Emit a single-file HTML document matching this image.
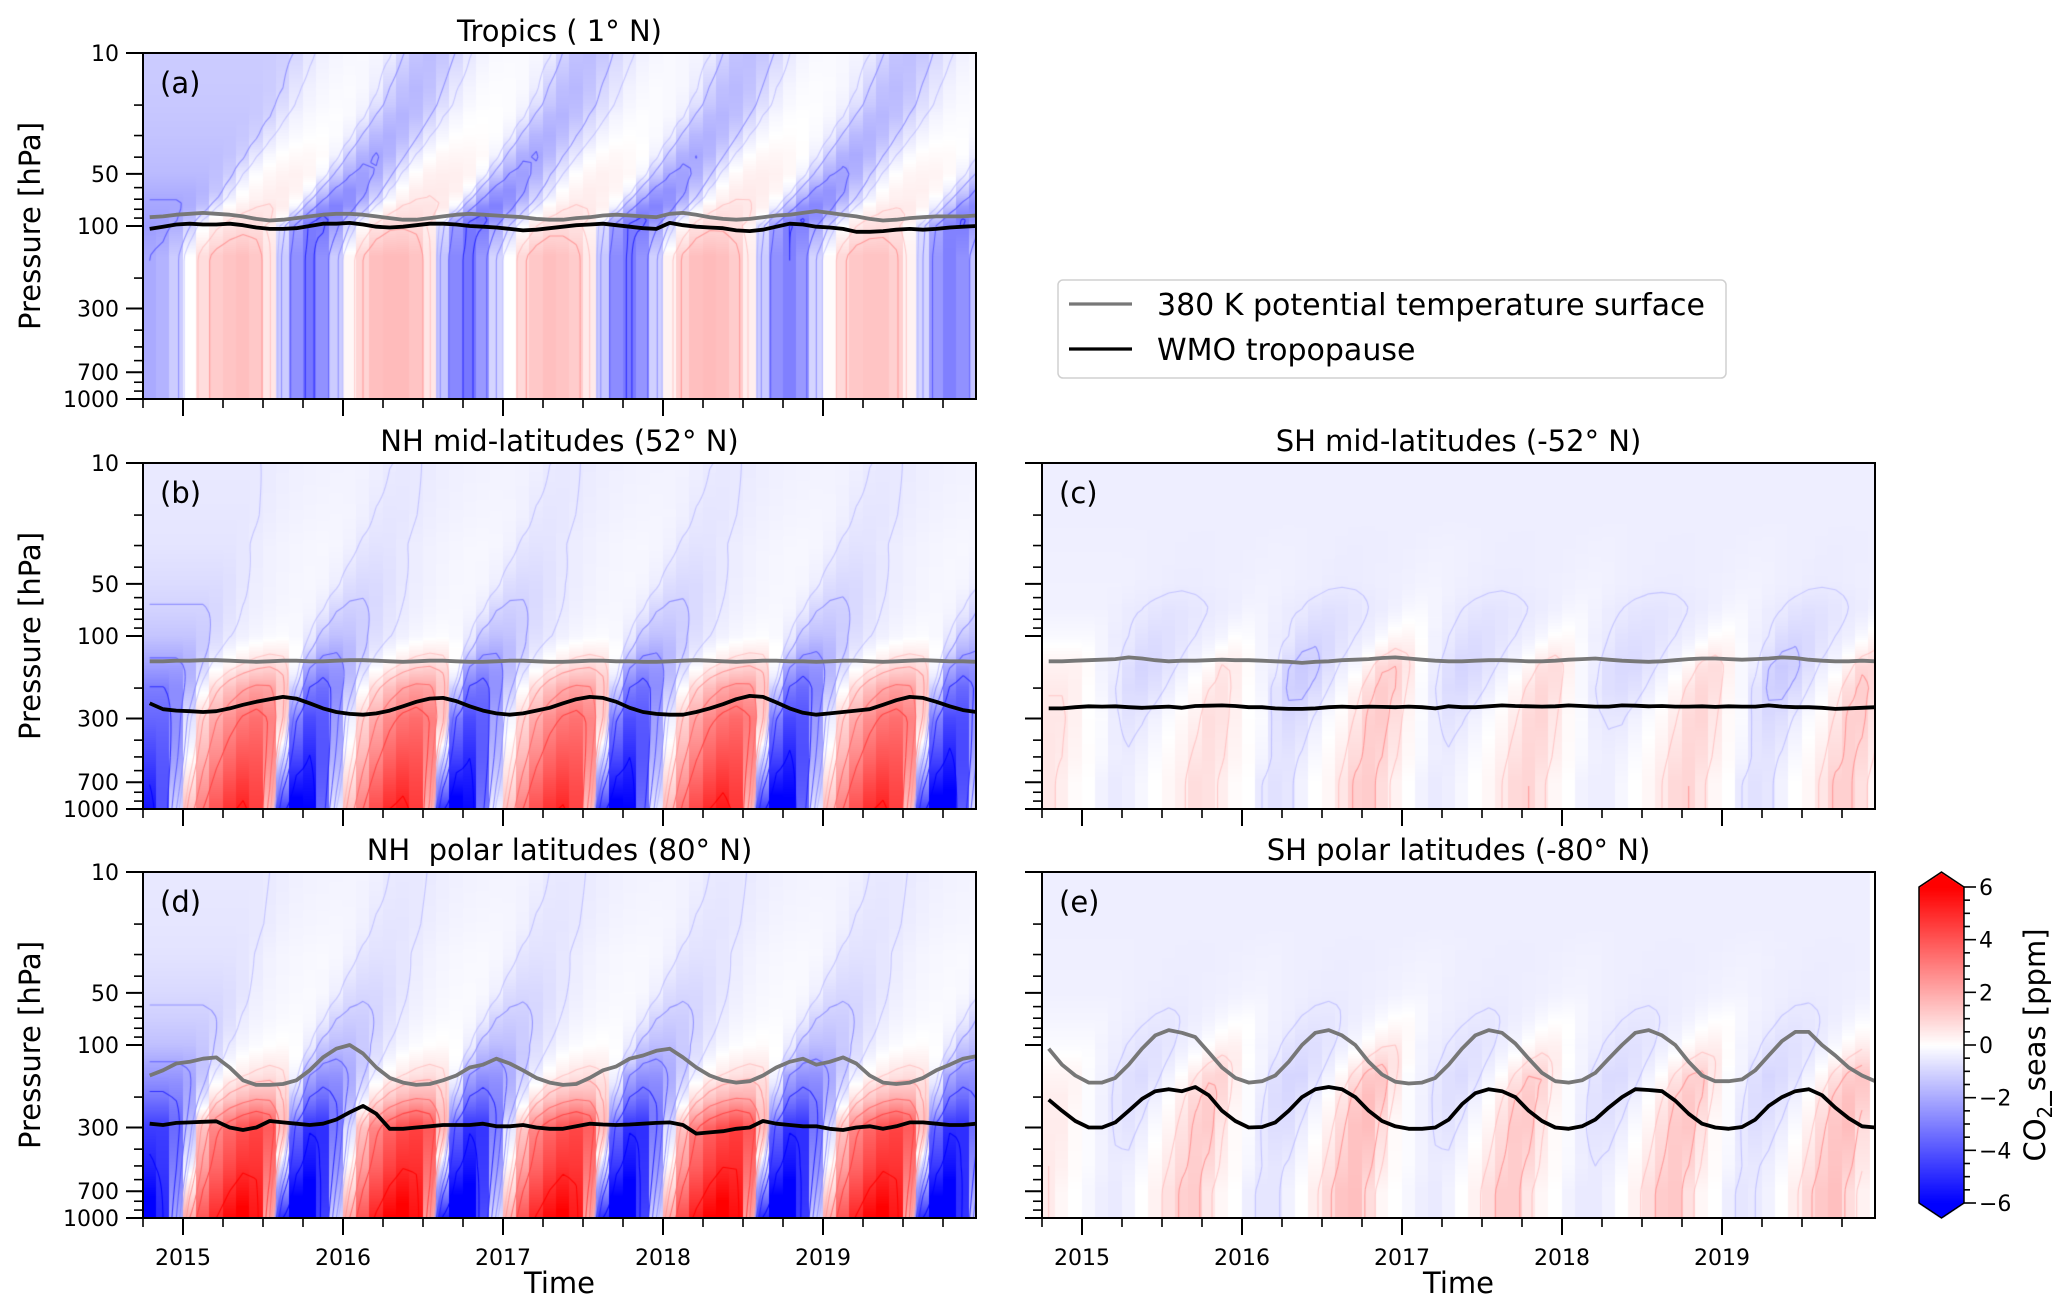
<!DOCTYPE html>
<html><head><meta charset="utf-8">
<style>
html,body{margin:0;padding:0;background:#fff;}
#wrap{position:relative;width:2067px;height:1313px;overflow:hidden;font-family:"DejaVu Sans","Liberation Sans",sans-serif;}
canvas{position:absolute;}
svg{position:absolute;left:0;top:0;}
</style></head>
<body>
<div id="wrap">
<canvas id="cv-a" width="833" height="346" style="left:143px;top:53px"></canvas>
<canvas id="cv-b" width="833" height="346" style="left:143px;top:463px"></canvas>
<canvas id="cv-c" width="833" height="346" style="left:1042px;top:463px"></canvas>
<canvas id="cv-d" width="833" height="346" style="left:143px;top:872px"></canvas>
<canvas id="cv-e" width="833" height="346" style="left:1042px;top:872px"></canvas>
<canvas id="cv-cb" width="45" height="346" style="left:1919px;top:872px"></canvas>
<svg id="svg" width="2067" height="1313" xmlns="http://www.w3.org/2000/svg"></svg>
</div>
<script>
// ---- data ----
const levels = [1000,700,500,300,200,150,100,70,50,30,20,10];
const surfA = [-2.0,-1.8,-1.2, 0,0.8,1.2,1.4,1.5,1.3,0.6,-1.2,-2.6,-3.2,-2.6,-1.2, 0.2,1.0,1.5,1.6,1.6,1.4,0.6,-1.4,-2.8,-3.2,-2.4,-1.0, 0,0.9,1.3,1.5,1.4,1.2,0.5,-1.3,-2.7,-3.1,-2.5,-1.1, 0.3,1.1,1.5,1.6,1.5,1.2,0.4,-1.2,-2.6,-3.0,-2.4,-1.0, 0.1,0.9,1.3,1.4,1.4,1.1,0.3,-1.0,-2.4,-3.0,-2.6,-1.4];
const surfB = [-5.5,-4,-1, 1.5,3,4,4.8,5.2,4.5,1.5,-4.5,-6.5,-6,-3.5,-0.5, 1.5,3,4.2,5,5.3,4.6,1.8,-4.8,-6.5,-5.8,-3.2,-0.3, 1.4,3,4.1,4.8,5.1,4.4,1.5,-4.5,-6.4,-6,-3.4,-0.5, 1.6,3.2,4.3,5,5.4,4.7,1.6,-4.6,-6.6,-6.2,-3.6,-0.6, 1.5,3,4.1,4.9,5.2,4.5,1.4,-4.5,-6.6,-6.4,-3.8,-0.8];
const surfC = [0.6,0.4,0.1, 0,-0.3,-0.5,-0.4,-0.2,0,0.2,0.4,0.8,0.7,0.4,0.1, 0,-0.5,-0.7,-0.6,-0.3,0,0.2,0.6,1.1,1.2,0.8,0.3, 0,-0.3,-0.5,-0.4,-0.2,0,0.2,0.5,0.9,1.0,0.6,0.2, 0,-0.3,-0.4,-0.4,-0.2,0,0.2,0.5,0.9,1.0,0.6,0.2, 0,-0.5,-0.7,-0.6,-0.3,0,0.2,0.6,1.1,1.1,0.7,0.2];
const surfD = [-6.5,-5,-2, 2,4,5,5.8,6.3,5.5,2,-5,-7,-7,-4.5,-1, 2,4,5.2,6,6.4,5.6,2.2,-5.2,-7,-6.8,-4.2,-0.8, 1.8,4,5.1,5.8,6.2,5.4,2,-5,-7,-7,-4.4,-1, 2,4.2,5.3,6,6.5,5.7,2.1,-5.1,-7,-7,-4.6,-1.1, 1.9,4,5.1,5.9,6.3,5.5,1.9,-5,-7,-7,-4.8,-1.2];
const surfE = [0.5,0.2,0, -0.2,-0.4,-0.5,-0.3,0,0.3,0.7,1.1,1.2,0.6,0.2,0, -0.4,-0.6,-0.6,-0.3,0,0.4,0.9,1.4,1.5,0.8,0.2,0, -0.2,-0.4,-0.5,-0.3,0,0.3,0.8,1.2,1.2,0.6,0.2,0, -0.3,-0.5,-0.5,-0.3,0,0.3,0.8,1.2,1.3,0.7,0.2,0, -0.4,-0.6,-0.5,-0.3,0,0.4,0.9,1.3,1.5,0.8,0.3];
const ampA = [1,1,1,1,1,1,0.9,0.7,0.55,0.4,0.35,0.3], lagA=[0,0,0,0,0,0,0.5,2.5,4,6,7.5,9], bgA=[0,0,0,0,0,0,-0.5,-0.6,-0.5,-0.6,-0.6,-0.6];
const ampB = [1,0.9,0.8,0.65,0.5,0.3,0.12,0.08,0.06,0.04,0.03,0.02], lagB=[0,0.3,0.6,1,1.5,2,3,4,5,6,7,8], bgB=[0,0,0,0,-0.3,-0.6,-0.7,-0.6,-0.5,-0.4,-0.4,-0.4];
const ampC = [1,1,1,1.1,1.3,1.2,0.6,0.3,0.1,0.05,0,0], lagC=[0,0,0.5,1,1.5,2,3,4,5,6,7,8], bgC=[0,0,0,-0.1,-0.3,-0.4,-0.5,-0.5,-0.4,-0.4,-0.4,-0.4];
const ampD = [1,0.9,0.8,0.7,0.4,0.25,0.12,0.08,0.06,0.04,0.03,0.02], lagD=[0,0.3,0.6,1,1.5,2,3,4,5,6,7,8], bgD=[0,0,0,0,-0.6,-0.8,-0.7,-0.6,-0.5,-0.4,-0.4,-0.4];
const ampE = [1,1,1,1.1,1.2,1.1,0.6,0.3,0.1,0.05,0,0], lagE=[0,0,0.5,1,1.5,2,3,4,5,6,7,8], bgE=[0,0,0,-0.1,-0.2,-0.3,-0.4,-0.4,-0.4,-0.4,-0.4,-0.4];

const grayA = [89,88,86, 85,84,85,86,88,91,93,92,90,88,86,85, 85,86,88,90,92,92,90,88,86,85,86,87, 88,89,91,92,92,90,89,87,86,87,88,89, 85,84,86,89,91,92,91,89,87,86,84,82, 84,86,88,91,93,92,90,89,88,88,88,87];
const blackA = [104,101,98, 97,98,98,97,99,102,104,104,103,100,97,97, 96,98,101,102,101,99,97,97,98,100,101,102, 104,106,105,103,101,99,98,97,99,101,103,104, 96,99,101,102,103,106,107,105,101,97,98,101, 102,104,108,108,107,105,104,105,104,102,101,100];
const grayB = [140,140,139, 139,138,138,139,140,141,140,139,139,140,140,139, 138,138,139,140,141,140,139,139,140,141,141,140, 139,139,140,141,141,140,139,139,140,140,141,141, 140,139,138,139,140,141,140,139,139,140,140,141, 140,139,139,140,141,140,139,138,139,140,140,141];
const blackB = [245,265,270, 272,275,272,262,250,240,232,225,230,245,262,275, 282,285,280,270,255,240,230,228,238,255,270,280, 285,280,270,260,245,232,225,228,240,260,275,282, 285,285,275,262,248,232,222,225,242,262,278,285, 280,275,270,265,250,235,225,228,240,255,268,275];
const grayC = [140,140,139, 138,137,136,133,135,138,140,139,139,138,137,138, 138,139,140,141,143,141,140,138,137,136,134,133, 135,137,139,140,140,139,138,138,139,140,140,139, 137,136,135,137,139,140,141,140,138,136,135,135, 136,137,136,135,133,134,137,139,140,140,139,140];
const blackC = [262,262,258, 255,256,255,258,260,258,256,260,254,253,252,254, 258,258,262,264,264,262,258,256,258,256,257,258, 256,258,262,255,258,258,255,252,254,255,256,255, 252,254,256,256,252,253,255,254,256,256,255,257, 255,256,256,252,256,258,258,260,264,262,260,258];
const grayD = [150,140,128, 125,120,118,135,160,170,170,168,160,140,118,105, 100,112,135,155,165,170,168,160,150,135,130,120, 128,140,155,165,170,168,155,140,133,120,115,108, 105,118,135,150,160,165,162,150,135,125,120,130, 125,118,128,150,165,168,165,155,140,130,120,116];
const blackD = [285,290,282, 280,278,276,300,310,300,275,280,285,290,285,270, 245,225,250,305,305,300,295,290,290,290,285,295, 295,290,300,305,305,295,285,288,290,288,285,282, 280,290,325,320,315,305,300,275,285,290,295,295, 305,310,300,295,305,295,280,280,285,290,290,285];
const grayE = [105,130,150, 165,165,155,130,105,88,82,85,90,110,135,155, 165,162,150,125,100,85,82,88,100,125,148,163, 167,165,155,130,105,88,82,85,98,120,145,162, 165,160,145,120,100,85,82,88,100,125,150,162, 162,158,140,115,95,84,84,100,115,135,150,162];
const blackE = [207,240,275, 300,300,280,240,205,185,180,185,175,195,240,275, 300,298,280,240,200,180,175,180,200,240,275,295, 305,305,300,270,220,190,180,185,200,240,275,300, 305,295,270,230,200,180,182,185,210,250,285,300, 305,298,270,225,200,185,180,195,230,265,295,300];
const yearTicks = [2015,2016,2017,2018,2019];
const pMajor = [10,50,100,300,700,1000];
const pMinor = [20,30,40,60,70,80,90,200,400,500,600,800,900];
const cbTicks = [-6,-4,-2,0,2,4,6];
const contourLevels = [-5,-3,-2,-1,-0.5,0.5,1,2,3,5];

// ---- geometry ----
const W=833, H=346, T0=2014.75, T1=T0+W/160;
const panels = [
 {id:'a',x:143,y:53,surf:surfA,amp:ampA,lag:lagA,bg:bgA,gray:grayA,black:blackA,title:'Tropics ( 1° N)',yl:true,xl:false},
 {id:'b',x:143,y:463,surf:surfB,amp:ampB,lag:lagB,bg:bgB,gray:grayB,black:blackB,title:'NH mid-latitudes (52° N)',yl:true,xl:false},
 {id:'c',x:1042,y:463,surf:surfC,amp:ampC,lag:lagC,bg:bgC,gray:grayC,black:blackC,title:'SH mid-latitudes (-52° N)',yl:false,xl:false},
 {id:'d',x:143,y:872,surf:surfD,amp:ampD,lag:lagD,bg:bgD,gray:grayD,black:blackD,title:'NH\u00a0 polar latitudes (80° N)',yl:true,xl:true},
 {id:'e',x:1042,y:872,surf:surfE,amp:ampE,lag:lagE,bg:bgE,gray:grayE,black:blackE,title:'SH polar latitudes (-80° N)',yl:false,xl:true}
];
function xs(P,t){return P.x+(t-T0)/(T1-T0)*W;}
function ys(P,p){return P.y+(Math.log10(p)-1)/2*H;}
function rgb(v){v=Math.max(-6,Math.min(6,v));let r,g,b;
 if(v<0){const f=1+v/6;r=f*255;g=f*255;b=255;}else{const f=1-v/6;r=255;g=f*255;b=f*255;}
 return [Math.round(r),Math.round(g),Math.round(b)];}
function color(v){const c=rgb(v);return 'rgb('+c[0]+','+c[1]+','+c[2]+')';}
function prof(arr,p){const lp=Math.log10(p);
 for(let k=0;k<levels.length-1;k++){const a=Math.log10(levels[k]),b=Math.log10(levels[k+1]);
  if(lp<=a&&lp>=b){const f=(a-lp)/(a-b);return arr[k]+(arr[k+1]-arr[k])*f;}}
 return lp>3?arr[0]:arr[arr.length-1];}
function sample(s,x){x=Math.max(0,Math.min(s.length-1,x));const i=Math.floor(x),f=x-i;const j=Math.min(s.length-1,i+1);return s[i]+(s[j]-s[i])*f;}
function val(P,i,p){return prof(P.amp,p)*sample(P.surf,i-prof(P.lag,p))+prof(P.bg,p);}

const svg=document.getElementById('svg');const NS='http://www.w3.org/2000/svg';
function el(tag,attrs,parent){const e=document.createElementNS(NS,tag);for(const k in attrs)e.setAttribute(k,attrs[k]);(parent||svg).appendChild(e);return e;}
function txt(s,attrs,parent){const e=el('text',attrs,parent);e.textContent=s;return e;}

panels.forEach(P=>{
 const cv=document.getElementById('cv-'+P.id);const ctx=cv.getContext('2d');
 const n=P.surf.length, cw=W/((T1-T0)*12);
 for(let r=0;r<H;r++){const p=Math.pow(10,1+2*(r+0.5)/H);
  for(let i=0;i<n;i++){ctx.fillStyle=color(val(P,i,p));
   ctx.fillRect(Math.floor(i*cw),r,Math.ceil(cw)+1,1);}}
 const NR=60, grid=[];
 for(let r=0;r<=NR;r++){const p=Math.pow(10,1+2*r/NR);const row=[];for(let i=0;i<n;i++)row.push(val(P,i,p));grid.push(row);}
 const gx=i=>(i+0.5)*cw, gy=r=>r*H/NR;
 ctx.lineWidth=1.1;
 contourLevels.forEach(L=>{
  const c=rgb(L>0?Math.min(6,1.5+L):Math.max(-6,-1.5+L*1.2));
  ctx.strokeStyle='rgba('+c[0]+','+c[1]+','+c[2]+','+(Math.abs(L)<1?0.55:0.9)+')';
  ctx.beginPath();
  for(let r=0;r<NR;r++)for(let i=0;i<n-1;i++){
   const v=[grid[r][i],grid[r][i+1],grid[r+1][i+1],grid[r+1][i]];
   const px=[gx(i),gx(i+1),gx(i+1),gx(i)],py=[gy(r),gy(r),gy(r+1),gy(r+1)];
   const pts=[];
   for(let k=0;k<4;k++){const a=v[k],b=v[(k+1)%4];
    if((a<L)!==(b<L)){const f=(L-a)/(b-a);const k2=(k+1)%4;pts.push([px[k]+(px[k2]-px[k])*f,py[k]+(py[k2]-py[k])*f]);}}
   for(let q=0;q+1<pts.length;q+=2){ctx.moveTo(pts[q][0],pts[q][1]);ctx.lineTo(pts[q+1][0],pts[q+1][1]);}
  }
  ctx.stroke();
 });
 const g=el('g',{});
 
 
 [['gray','#777777'],['black','#000000']].forEach(([k,c])=>{const arr=P[k];
  const pts=arr.map((v,i)=>xs(P,T0+(i+0.5)/12).toFixed(1)+','+ys(P,v).toFixed(1)).join(' ');
  const pl=el('polyline',{points:pts,fill:'none',stroke:c,'stroke-width':3.8,'stroke-linejoin':'round'},g);
  
  });
 const fr=el('rect',{x:P.x,y:P.y,width:W,height:H,fill:'none',stroke:'#000','stroke-width':2},g);
 
 
 pMajor.forEach(p=>{const y=ys(P,p);el('line',{x1:P.x-17,x2:P.x,y1:y,y2:y,stroke:'#000','stroke-width':2},g);
  if(P.yl){const t=txt(String(p),{x:P.x-24,y:y+8,'font-size':22,'text-anchor':'end',fill:'#000'},g);
   
   }});
 pMinor.forEach(p=>{const y=ys(P,p);el('line',{x1:P.x-9,x2:P.x,y1:y,y2:y,stroke:'#000','stroke-width':1.6},g);});
 for(let q=0;q<=21;q++){const t=T0+q*0.25;if(t>T1+1e-6)break;const x=xs(P,t);
  const major=Math.abs(t-Math.round(t))<1e-6;
  el('line',{x1:x,x2:x,y1:P.y+H,y2:P.y+H+(major?17:9),stroke:'#000','stroke-width':major?2:1.6},g);}
 if(P.xl){yearTicks.forEach(yr=>{const t=txt(String(yr),{x:xs(P,yr),y:P.y+H+47,'font-size':22,'text-anchor':'middle'},g);
   
   });
  const xl=txt('Time',{x:P.x+W/2,y:1293,'font-size':29,'text-anchor':'middle'},g);
  
  }
 if(P.yl){const yt=txt('Pressure [hPa]',{x:0,y:0,'font-size':29,'text-anchor':'middle',transform:'translate(40,'+(P.y+H/2)+') rotate(-90)'},g);
  
  }
 const tt=txt(P.title,{x:P.x+W/2,y:P.y-12,'font-size':29,'text-anchor':'middle'},g);
 
 
 const lb=txt('('+P.id+')',{x:P.x+17,y:P.y+40,'font-size':29},g);
 
 
});

// colorbar
(function(){const cv=document.getElementById('cv-cb');const ctx=cv.getContext('2d');
 const top=15,bot=331;
 for(let r=0;r<346;r++){let v;if(r<top)v=6.5;else if(r>bot)v=-6.5;else v=6-12*(r-top)/(bot-top);
  let w=45;if(r<top){w=45*(r/top);}else if(r>bot){w=45*((346-r)/(346-bot));}
  ctx.fillStyle=color(v);ctx.fillRect(22.5-w/2,r,w,1);}
 const g=el('g',{});
 
 
 const X=1919,Y=872;
 el('polygon',{points:`${X},${Y+top} ${X+22.5},${Y} ${X+45},${Y+top} ${X+45},${Y+bot} ${X+22.5},${Y+346} ${X},${Y+bot}`,fill:'none',stroke:'#000','stroke-width':1.5},g);
 function cy(v){return Y+top+(6-v)/12*(bot-top);}
 for(let v=-6;v<=6.001;v+=0.5){const major=Math.abs(v/2-Math.round(v/2))<1e-6;
  el('line',{x1:X+45,x2:X+45+(major?12:6),y1:cy(v),y2:cy(v),stroke:'#000','stroke-width':1.6},g);}
 cbTicks.forEach(v=>{const t=txt(v<0?'\u2212'+Math.abs(v):String(v),{x:X+60,y:cy(v)+8,'font-size':22},g);
  
  });
 const lab=el('text',{x:0,y:0,'font-size':29,'text-anchor':'middle',transform:`translate(2045,${Y+173}) rotate(-90)`},g);
 
 
 lab.innerHTML='CO<tspan font-size="20" dy="7">2</tspan><tspan dy="-7">_seas [ppm]</tspan>';
})();

// legend
(function(){const g=el('g',{});
 
 
 el('rect',{x:1058,y:280,width:668,height:98,rx:5,fill:'#fff',stroke:'#d0d0d0','stroke-width':1.5},g);
 el('line',{x1:1069,x2:1132,y1:304,y2:304,stroke:'#777','stroke-width':3.2},g);
 el('line',{x1:1069,x2:1132,y1:349,y2:349,stroke:'#000','stroke-width':3.2},g);
 const t1=txt('380 K potential temperature surface',{x:1157,y:315,'font-size':30},g);
 
 
 const t2=txt('WMO tropopause',{x:1157,y:360,'font-size':30},g);
 
 
})();
</script>
</body></html>
